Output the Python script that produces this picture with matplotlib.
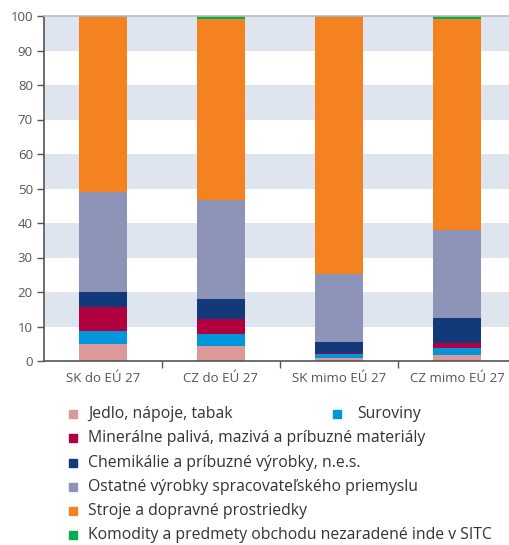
import matplotlib
matplotlib.use("Agg")
import matplotlib.pyplot as plt
import numpy as np
from matplotlib.patches import Rectangle

plt.rcParams['font.family'] = ['Open Sans', 'DejaVu Sans']

categories = ["SK do EÚ 27", "CZ do EÚ 27", "SK mimo EÚ 27", "CZ mimo EÚ 27"]
series_names = [
    "Jedlo, nápoje, tabak",
    "Suroviny",
    "Minerálne palivá, mazivá a príbuzné materiály",
    "Chemikálie a príbuzné výrobky, n.e.s.",
    "Ostatné výrobky spracovateľského priemyslu",
    "Stroje a dopravné prostriedky",
    "Komodity a predmety obchodu nezaradené inde v SITC",
]
food = [5.0, 4.35, 1.0, 1.75]
raw = [3.7, 3.55, 1.1, 2.1]
mineral = [6.95, 4.3, 0.3, 1.45]
chem = [4.35, 5.8, 3.1, 7.2]
other = [29.1, 28.8, 19.8, 25.6]
machinery = [50.6, 52.3, 74.4, 61.0]
commodities = [0.3, 0.9, 0.3, 0.9]
colors = ["#DB999A", "#0096DB", "#B0003F", "#12397A", "#8E93B8", "#F58220", "#00B050"]
yticks = list(range(0, 101, 10))

series = [food, raw, mineral, chem, other, machinery, commodities]

fig = plt.figure(figsize=(5.10, 5.45), dpi=100)
ax = fig.add_axes([44/510, 1-361/545, 472/510, 345/545])

# alternating bands
for lo in range(10, 100, 20):
    ax.axhspan(lo, lo+10, color="#DFE5EF", zorder=0, lw=0)

x = np.arange(len(categories))
bottom = np.zeros(len(categories))
for vals, c in zip(series, colors):
    ax.bar(x, vals, bottom=bottom, width=0.407, color=c, zorder=2, lw=0)
    bottom += np.array(vals)

ax.set_xlim(-0.5, len(categories)-0.5)
ax.set_ylim(0, 100)
ax.set_yticks(yticks)
ax.set_yticklabels([str(t) for t in yticks], fontsize=9.5, color="#555555")
ax.set_xticks(x)
ax.set_xticklabels(categories, fontsize=9.5, color="#555555")
ax.tick_params(axis='x', length=0, pad=8)
ax.set_xticks(np.arange(0.5, len(categories)-0.5, 1), minor=True)
ax.tick_params(axis='x', which='minor', length=5, color="#555555", width=1)
ax.tick_params(axis='y', length=5, color="#555555", width=1, pad=3)

for s in ['left', 'bottom']:
    ax.spines[s].set_color("#555555")
    ax.spines[s].set_linewidth(1.2)
ax.spines['right'].set_visible(False)
ax.spines['top'].set_color("#BBBBBB")
ax.spines['top'].set_linewidth(1.2)

# legend
def leg_item(px, tx, py, color, text):
    fig.patches.append(Rectangle((px/510, 1-(py+4)/545), 8/510, 8/545,
                                 transform=fig.transFigure, color=color, figure=fig))
    fig.text(tx/510, 1-py/545, text, fontsize=11.3, color="#333333",
             va='center', ha='left')

rows_y = [414, 438, 463, 487, 511, 535]
leg_item(69, 88, rows_y[0], colors[0], series_names[0])
leg_item(333, 357, rows_y[0], colors[1], series_names[1])
for i in range(2, 7):
    leg_item(69, 88, rows_y[i-1], colors[i], series_names[i])

fig.savefig("out.png", dpi=100)
